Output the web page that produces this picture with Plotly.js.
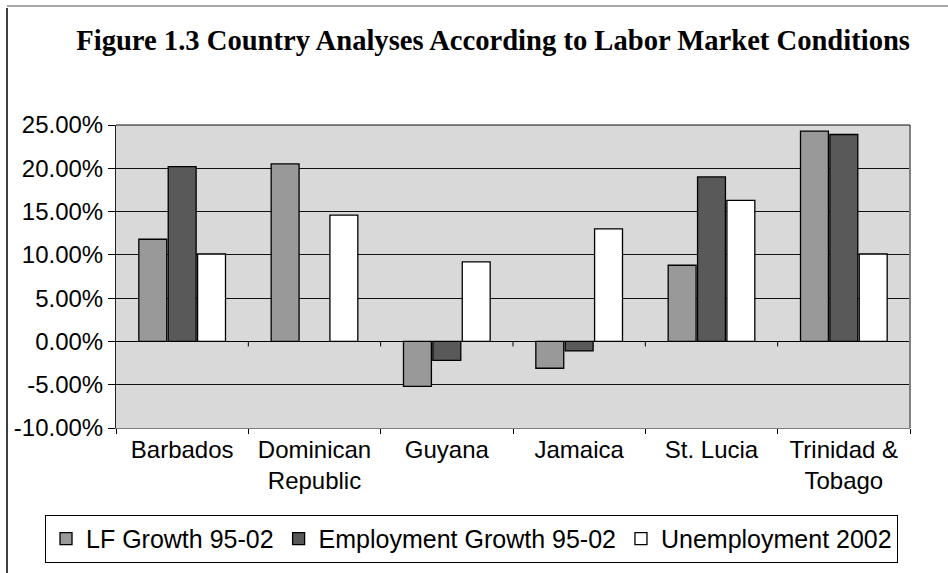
<!DOCTYPE html>
<html>
<head>
<meta charset="utf-8">
<script src="https://cdn.plot.ly/plotly-3.0.1.min.js"></script>
<style>
  html, body { margin: 0; padding: 0; background: #ffffff; }
  #chart { width: 948px; height: 573px; }
</style>
</head>
<body>
<div id="chart"></div>
<script>
// ---- data (percent) ----
const categories = ['Barbados', 'Dominican Republic', 'Guyana', 'Jamaica', 'St. Lucia', 'Trinidad & Tobago'];
const categoryLabels = ['Barbados', 'Dominican<br>Republic', 'Guyana', 'Jamaica', 'St. Lucia', 'Trinidad &<br>Tobago'];
const lfGrowth = [11.8, 20.5, -5.2, -3.1, 8.8, 24.3];
const employmentGrowth = [20.2, null, -2.2, -1.1, 19.0, 23.9];
const unemployment = [10.1, 14.6, 9.2, 13.0, 16.3, 10.1];
const seriesNames = ['LF Growth 95-02', 'Employment Growth 95-02', 'Unemployment 2002'];
const yTickVals = [-10, -5, 0, 5, 10, 15, 20, 25];
const yTickText = yTickVals.map(v => v.toFixed(2) + '%');

const colors = ['#999999', '#595959', '#ffffff'];
const seriesData = [lfGrowth, employmentGrowth, unemployment];

const traces = seriesData.map((vals, i) => ({
  type: 'bar',
  name: seriesNames[i],
  x: categories,
  y: vals,
  marker: { color: colors[i], line: { color: '#000000', width: 1.3 } },
  hoverinfo: 'skip'
}));

const boundaryTicks = categories.slice(1).map((c, i) => ({
  type: 'line', xref: 'x', yref: 'y',
  x0: i + 0.5, x1: i + 0.5,
  ysizemode: 'pixel', yanchor: 0, y0: 0, y1: -5,
  line: { color: '#000000', width: 1 }
}));

const layout = {
  width: 948, height: 573,
  margin: { l: 116, r: 38, t: 125, b: 145, autoexpand: false },
  paper_bgcolor: '#ffffff',
  plot_bgcolor: '#d9d9d9',
  font: { family: '"Liberation Sans", Arial, sans-serif', size: 24, color: '#000000' },
  title: {
    text: '<b>Figure 1.3 Country Analyses According to Labor Market Conditions</b>',
    font: { family: '"Liberation Serif", "Times New Roman", serif', size: 28.6, color: '#000000' },
    xref: 'paper', x: 1, xanchor: 'right',
    yref: 'container', y: 1 - 40 / 573, yanchor: 'middle'
  },
  barmode: 'group',
  bargap: 0.334,
  bargroupgap: 0.05,
  showlegend: true,
  legend: {
    orientation: 'h',
    x: -0.0894, xanchor: 'left',
    y: -0.287, yanchor: 'top',
    bgcolor: '#ffffff', bordercolor: '#000000', borderwidth: 1,
    font: { size: 25 },
    traceorder: 'normal'
  },
  xaxis: {
    type: 'category',
    categoryorder: 'array', categoryarray: categories,
    tickvals: categories, ticktext: categoryLabels,
    tickson: 'boundaries', ticks: 'outside', ticklen: 5, tickcolor: '#000000',
    showline: true, linecolor: '#808080', linewidth: 1,
    showgrid: false, zeroline: false,
    range: [-0.5, 5.5], fixedrange: true,
    tickfont: { size: 24 }
  },
  yaxis: {
    range: [-10, 25],
    tickvals: yTickVals, ticktext: yTickText,
    ticks: 'outside', ticklen: 7, tickcolor: '#000000',
    showline: true, linecolor: '#222222', linewidth: 1,
    showgrid: true, gridcolor: '#111111', gridwidth: 1,
    zeroline: true, zerolinecolor: '#000000', zerolinewidth: 1,
    fixedrange: true,
    tickfont: { size: 24 }
  },
  shapes: [
    // right border of plot area
    { type: 'line', xref: 'paper', yref: 'paper', x0: 1, x1: 1, y0: 0, y1: 1, line: { color: '#808080', width: 2 } },
    // top border of plot area
    { type: 'line', xref: 'paper', yref: 'paper', x0: 0, x1: 1, y0: 1, y1: 1, line: { color: '#111111', width: 1 } },
    // outer frame (left and top)
    { type: 'line', xref: 'paper', yref: 'paper', x0: -109 / 794, x1: -109 / 794, y0: -1, y1: 420 / 303, line: { color: '#000000', width: 1.5 } },
    { type: 'line', xref: 'paper', yref: 'paper', x0: -109 / 794, x1: 2, y0: 422 / 303, y1: 422 / 303, line: { color: '#888888', width: 1.5 } }
  ].concat(boundaryTicks)
};

Plotly.newPlot('chart', traces, layout, { displayModeBar: false, staticPlot: true });
</script>
</body>
</html>
